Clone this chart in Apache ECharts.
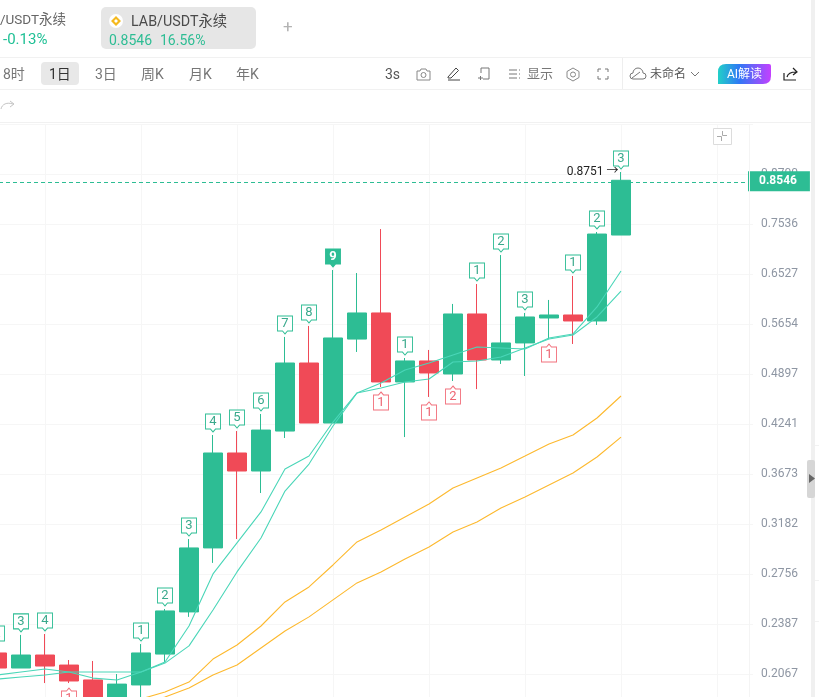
<!DOCTYPE html>
<html><head><meta charset="utf-8">
<style>html,body{margin:0;padding:0;background:#fff;overflow:hidden}#c{width:819px;height:697px}</style>
<script src="https://cdn.jsdelivr.net/npm/echarts@6/dist/echarts.min.js"></script>
</head><body><div id="c"></div>
<script>
const categories = ['1','2','3','4','5','6','7','8','9','10','11','12','13','14','15','16','17','18','19','20','21','22','23','24','25','26','27','28','29','30','31','32'];
const opens  = [.2196,.2103,.2183,.2121,.2032,.1907,.2003,.2189,.2471,.2970,.3902,.3705,.4156,.5054,.4253,.5414,.5836,.4786,.5084,.4897,.5819,.5098,.5354,.5752,.5802,.5703,.7301];
const closes = [.2103,.2183,.2115,.2026,.1918,.2008,.2196,.2478,.2970,.3902,.3705,.4168,.5054,.4253,.5431,.5836,.4786,.5084,.4911,.5819,.5098,.5354,.5769,.5802,.5703,.7322,.8546];
const lows   = [.2091,.2103,.2014,.2014,.1885,.1877,.1887,.2140,.2436,.2845,.3047,.3478,.4074,.4253,.4253,.5217,.4717,.4085,.4584,.4799,.4689,.5040,.4869,.5414,.5338,.5638,.7301];
const highs  = [.2234,.2313,.2319,.2152,.2146,.2067,.2253,.2492,.3047,.4109,.4156,.4365,.5447,.5622,.6603,.6546,.7428,.5127,.5247,.5989,.6342,.6893,.5836,.6058,.6490,.7365,.8751];
const maFast = [.2061,.2079,.2097,.2079,.2043,.2032,.2079,.2140,.2373,.2756,.3013,.3294,.3726,.3868,.4265,.4637,.4772,.4954,.5054,.5172,.5292,.5277,.5262,.5431,.5494,.5937,.6584];
const maSlow = [.2037,.2049,.2061,.2079,.2079,.2079,.2079,.2133,.2241,.2485,.2772,.3056,.3498,.3780,.4217,.4637,.4704,.4786,.4827,.5069,.5084,.5142,.5277,.5414,.5478,.5769,.6216];
const maLongA = [null,null,null,null,null,null,.1924,.1963,.2020,.2158,.2247,.2373,.2543,.2655,.2828,.3022,.3128,.3247,.3370,.3528,.3631,.3737,.3868,.4004,.4109,.4315,.4597];
const maLongB = [null,null,null,null,null,null,.1891,.1935,.1985,.2061,.2121,.2228,.2339,.2436,.2558,.2686,.2772,.2877,.2978,.3110,.3200,.3332,.3438,.3559,.3684,.3857,.4085];
const tdUp   = [[0,2],[1,3],[2,4],[6,1],[7,2],[8,3],[9,4],[10,5],[11,6],[12,7],[13,8],[14,9],[17,1],[20,1],[21,2],[22,3],[24,1],[25,2],[26,3]];
const tdDown = [[3,1],[16,1],[18,1],[19,2],[23,1]];
const tickLabels = ['','0.2067','0.2387','0.2756','0.3182','0.3673','0.4241','0.4897','0.5654','0.6527','0.7536','0.8700',''];
const priceMin = 0.17904, priceMax = 1.00465;
const lastPrice = 0.8546, topPrice = 0.8751, topIndex = 26;

const GREEN='#2dbd94', RED='#f04a57', TEAL='#4ad6b8', ORANGE='#fdb92e';
const FONT='Roboto,"Noto Sans CJK SC",sans-serif';
const candle = opens.map((o,i)=>[o,closes[i],lows[i],highs[i]]);

function marker(list,isUp){
  const col=isUp?GREEN:'#f2707c', path=isUp?'path://M0 0H15V15H10L7.5 18L5 15H0Z':'path://M7.5 0L10 3H15V18H0V3H5Z';
  return {type:'scatter',xAxisIndex:0,yAxisIndex:0,z:5,silent:true,symbol:path,symbolSize:[15,18],symbolOffset:[0,isUp?-12:14],
    itemStyle:{color:'#fff',borderColor:col,borderWidth:1,opacity:1},
    label:{show:true,position:'inside',offset:[0,isUp?-1.5:1.5],fontSize:13,color:isUp?'#3aa98c':'#ee6673',fontFamily:FONT,formatter:p=>String(p.data.n)},
    data:list.map(d=>{
      const filled=isUp&&d[1]===9;
      const item={value:[d[0],isUp?highs[d[0]]:lows[d[0]]],n:d[1]};
      if(filled){item.itemStyle={color:GREEN,borderColor:GREEN};item.label={color:'#fff',fontWeight:'bold'};}
      return item;
    })};
}
function line(d,c){return {type:'line',data:d,xAxisIndex:0,yAxisIndex:0,z:4,silent:true,symbol:'none',smooth:false,lineStyle:{color:c,width:1.1},itemStyle:{color:c}};}

const G=[];
let iconN=0;
const T=(text,x,y,size,fill,extra)=>G.push({type:'text',x,y:y+1,z:50,silent:true,style:Object.assign({text,fontSize:size,fill,fontFamily:FONT,verticalAlign:'middle'},extra||{})});
const R=(x,y,w,h,fill,r,stroke)=>G.push({type:'rect',z:40,silent:true,shape:{x,y,width:w,height:h,r:r||0},style:{fill,stroke:stroke||null,lineWidth:1}});
const P=(d,x,y,stroke,fill,lw,z)=>{
  const name='ic'+(iconN++);
  echarts.graphic.registerShape(name,echarts.graphic.extendPath(d,{}));
  G.push({type:name,x,y,z:z||50,silent:true,style:{fill:fill||'none',stroke:stroke||null,lineWidth:lw||1}});
};

// frame lines
R(0,57,811,1,'#f1f1f1');R(0,89,811,1,'#f1f1f1');R(0,122,811,1,'#f1f1f1');
R(622,58,1,31,'#eeeeee');
R(749,124,1,573,'#f4f4f4');
R(811,0,4,697,'#f0f0f0');
R(807,460,8,38,'#d6d6d6',2);
P('M0 0L6 4.5L0 9Z',809,474,null,'#666');
R(815,445,4,1,'#f2f2f2');R(815,580,4,1,'#f2f2f2');R(815,621,4,1,'#f2f2f2');
// tabs
T('/USDT永续',0,20,13.5,'#666');
T('-0.13%',3,39,15,'#1fc095');
R(101,7,155,42,'#e6e6e6',5);
G.push({type:'circle',z:45,silent:true,shape:{cx:116,cy:21,r:7},style:{fill:'#fff'}});
P('M5 0L10 5L5 10L0 5Z M5 3L3 5L5 7L7 5Z',111,16,null,'#f5b91e');
T('LAB/USDT永续',131,21,14.3,'#4a4a4a');
T('0.8546',109,40,14,GREEN);
T('16.56%',160,40,14,GREEN);
T('+',283,27,17,'#b3b3b3');
// period row
R(41,62,38,23,'#e8e8e8',4);
T('8时',3,74,14,'#777');T('1日',49,74,14,'#333');T('3日',95,74,14,'#777');
T('周K',141,74,14,'#777');T('月K',189,74,14,'#777');T('年K',236,74,14,'#777');
T('3s',385,74,14,'#555');
// icons
P('M0 3H3L4 1H9L10 3H13V12H0Z M6.5 4.5A2.5 2.5 0 1 0 6.5 9.5A2.5 2.5 0 1 0 6.5 4.5Z',417,68,'#888');
P('M0 10L8 1L10.5 3.5L3 11H0Z M0 13H12',448,67,'#444');
P('M3 0H11V11H5 M3 0V5 M0 10H5 M2.5 8V12',478,68,'#777');
P('M0 0H8 M0 4H8 M0 8H8 M10 0H11 M10 4H11 M10 8H11',509,70,'#777');
T('显示',527,74,13,'#777');
P('M6 0L12 3.5V9.5L6 13L0 9.5V3.5Z M6 4A2.5 2.5 0 1 0 6 9A2.5 2.5 0 1 0 6 4Z',567,68,'#888');
P('M0 3V0H3 M7 0H10V3 M10 7V10H7 M3 10H0V7',598,69,'#777');
P('M3 11A3 3 0 0 1 3 5A5 5 0 0 1 13 5A3 3 0 0 1 13 11Z M2 10L10 4',630,68,'#777');
T('未命名',650,74,12,'#555');
P('M0 0L4 4L8 0',691,72,'#777');
P('M8 0H51Q53 0 53 2V12Q53 20 45 20H0V8Q0 0 8 0Z',718,64,null,new echarts.graphic.LinearGradient(0,0,1,0,[{offset:0,color:'#22d0c8'},{offset:.4,color:'#2f78f5'},{offset:1,color:'#c440ff'}]),1,45);
T('AI解读',727,74,12,'#fff');
P('M0 5V12H12 M3 9C4 5 7 4 12 4 M9 0L13 4L9 7',784,68,'#222',null,1.2);
// undo/redo row
P('M0 8C1 3 6 1 12 3 M9 0L13 3L9 6',1,101,'#c4c4c4');
// collapse button
R(713.5,128.5,18,16,'#fff',0,'#dcdcdc');
P('M6.5 1V5.5H11 M1 6.5H5.5V11',716,130,'#aaa');

const chart=echarts.init(document.getElementById('c'),null,{renderer:'canvas'});
chart.setOption({
  animation:false,backgroundColor:'#fff',
  textStyle:{fontFamily:FONT},
  grid:{left:-15,width:768,top:124,height:600,containLabel:false,outerBoundsMode:'none'},
  xAxis:{type:'category',data:categories,boundaryGap:true,
    axisLine:{show:false},axisTick:{show:false},axisLabel:{show:false},
    splitLine:{show:true,alignWithLabel:true,interval:(i)=>i%4===2,lineStyle:{color:'#f6f6f6',width:1}}},
  yAxis:[
    {type:'log',logBase:10,min:priceMin,max:priceMax,show:false,scale:true,splitLine:{show:false}},
    {type:'category',data:tickLabels,boundaryGap:false,position:'right',
      axisLine:{show:false},axisTick:{show:false},
      axisLabel:{show:true,interval:0,margin:8,fontSize:12,color:'#8e96a3',fontFamily:FONT},
      splitLine:{show:true,interval:0,lineStyle:{color:'#f6f6f6',width:1}}}
  ],
  series:[
    {type:'candlestick',xAxisIndex:0,yAxisIndex:0,data:candle,barWidth:19,z:3,silent:true,
      itemStyle:{color:GREEN,color0:RED,borderColor:GREEN,borderColor0:RED,borderWidth:1},
      markLine:{silent:true,symbol:'none',animation:false,z:6,
        itemStyle:{color:GREEN},
        lineStyle:{color:GREEN,type:[4,3],width:1},
        label:{show:true,position:'end',distance:-5,offset:[0,-1],formatter:String(lastPrice),backgroundColor:GREEN,color:'#fff',fontWeight:'bold',fontSize:12,padding:[5,13,3,11],lineHeight:12,align:'left',verticalAlign:'middle',fontFamily:FONT},
        data:[{yAxis:lastPrice,itemStyle:{color:GREEN},lineStyle:{color:GREEN,type:[4,3],width:1}}]},
      markPoint:{silent:true,animation:false,symbol:'circle',symbolSize:1,itemStyle:{color:'transparent',borderColor:'transparent'},
        label:{show:true,position:'left',distance:1,formatter:topPrice+' →',color:'#222',fontSize:12,fontFamily:FONT},
        data:[{coord:[topIndex,topPrice]}]}
    },
    line(maFast,TEAL),line(maSlow,TEAL),line(maLongA,ORANGE),line(maLongB,ORANGE),
    marker(tdUp,true),marker(tdDown,false)
  ],
  graphic:{elements:G}
});
</script></body></html>
